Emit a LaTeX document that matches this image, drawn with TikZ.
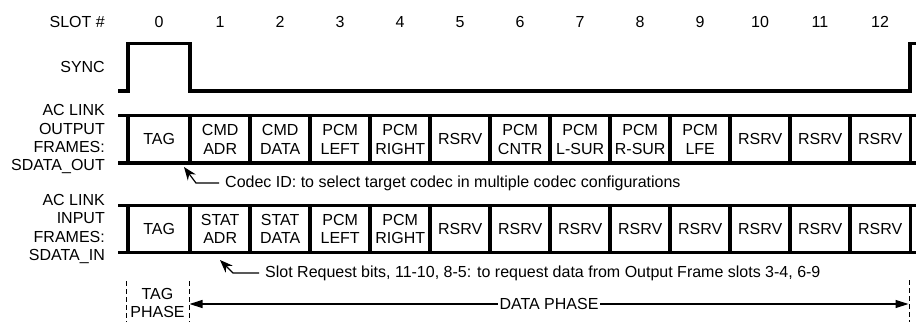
\documentclass[tikz,border=0pt]{standalone}
\usepackage{fontspec}
\setmainfont{Liberation Sans}
\usetikzlibrary{arrows.meta,calc}
\begin{document}
\begin{tikzpicture}[x=1pt,y=-1pt,
  every node/.style={font=\fontsize{16}{18.4}\selectfont, inner sep=0pt},
  slotbox/.style={minimum height=47.5pt, align=center, anchor=west},
  thickline/.style={line width=3.2pt, line join=miter},
  notelbl/.style={anchor=west, inner xsep=6pt, inner ysep=0pt},
  notearrow/.style={line width=1.2pt, -{Stealth[length=13pt,width=10pt]}},
  phasearrow/.style={line width=1.2pt, {Triangle[length=13pt,width=8pt]}-{Triangle[length=13pt,width=8pt]}},
  phasedash/.style={line width=0.9pt, dash pattern=on 5pt off 3pt},
  sidelbl/.style={align=right, anchor=east}]
\useasboundingbox (0,0) rectangle (916,322);

% left labels
\node[sidelbl] (slotlbl) at (105,22) {SLOT \#};
\node[sidelbl] (synclbl) at (105,67) {SYNC};
\node[sidelbl] (outlbl) at (105,139.3) {AC LINK\\OUTPUT\\FRAMES:\\SDATA\_OUT};
\node[sidelbl] (inlbl) at (105,229) {AC LINK\\INPUT\\FRAMES:\\SDATA\_IN};

% slot numbers
\foreach \i in {0,...,12}{
  \pgfmathsetmacro{\cx}{ifthenelse(\i==0,159,160+60*\i)}
  \node (n\i) at (\cx,22) {\i};
}

% SYNC waveform
\draw[thickline] (118,91) -- (128,91) -- (128,43.5) -- (190,43.5) -- (190,91) -- (910,91) -- (910,43.5) -- (916,43.5);

% output frame slots
\foreach \t [count=\j from 0] in {TAG,{CMD\\ADR},{CMD\\DATA},{PCM\\LEFT},{PCM\\RIGHT},RSRV,{PCM\\CNTR},{PCM\\L-SUR},{PCM\\R-SUR},{PCM\\LFE},RSRV,RSRV,RSRV}{
  \pgfmathsetmacro{\bx}{ifthenelse(\j==0,128,130+60*\j)}
  \pgfmathsetmacro{\bw}{ifthenelse(\j==0,62,60)}
  \node[slotbox, minimum width=\bw pt] (o\j) at (\bx,139.3) {\t};
}
% input frame slots
\foreach \t [count=\j from 0] in {TAG,{STAT\\ADR},{STAT\\DATA},{PCM\\LEFT},{PCM\\RIGHT},RSRV,RSRV,RSRV,RSRV,RSRV,RSRV,RSRV,RSRV}{
  \pgfmathsetmacro{\bx}{ifthenelse(\j==0,128,130+60*\j)}
  \pgfmathsetmacro{\bw}{ifthenelse(\j==0,62,60)}
  \node[slotbox, minimum width=\bw pt] (i\j) at (\bx,229) {\t};
}

% frame borders
\draw[thickline] (118,115.5) -- (916,115.5);
\draw[thickline] (118,163) -- (916,163);
\draw[thickline] (118,205.5) -- (916,205.5);
\draw[thickline] (118,252.5) -- (916,252.5);
\foreach \j in {0,...,12}{
  \draw[thickline] (o\j.north west) -- (o\j.south west);
  \draw[thickline] (i\j.north west) -- (i\j.south west);
}
\draw[thickline] (o12.north east) -- (o12.south east);
\draw[thickline] (i12.north east) -- (i12.south east);

% notes
\node[notelbl] (codec) at (219,183) {Codec ID: to select target codec in multiple codec configurations};
\coordinate (ctip) at (184,167);
\draw[notearrow] (codec.west) -- ++(-23,0) -- (ctip);

\node[notelbl] (slotreq) at (259,273) {Slot Request bits, 11-10, 8-5: to request data from Output Frame slots 3-4, 6-9};
\coordinate (stip) at (220,260);
\draw[notearrow] (slotreq.west) -- ++(-26,0) -- (stip);

% phases
\draw[phasedash] (126,281) -- (126,322);
\draw[phasedash] (189,281) -- (189,322);
\draw[phasedash] (909,280) -- (909,322);
\node[align=center] (tagphase) at (157.5,303) {TAG\\PHASE};
\coordinate (tagend) at (189.5,304);
\coordinate (dataend) at (908.5,304);
\draw[phasearrow] (tagend) -- node[fill=white, inner xsep=1.5pt, inner ysep=1pt] (dp) {DATA PHASE} (dataend);
\end{tikzpicture}
\end{document}
